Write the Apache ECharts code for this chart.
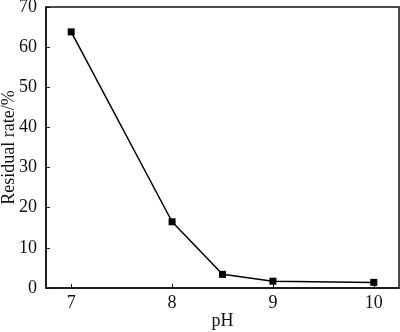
<!DOCTYPE html>
<html><head><meta charset="utf-8">
<script src="https://cdn.jsdelivr.net/npm/echarts@6/dist/echarts.min.js"></script>
<style>html,body{margin:0;padding:0;background:#fff}#c{width:400px;height:332px}</style>
</head><body><div id="c"></div>
<script>
const pH = [7, 8, 8.5, 9, 10];
const residualRate = [63.8, 16.5, 3.4, 1.7, 1.4];
const xTicks = [7, 8, 9, 10];
const yTicks = [0, 10, 20, 30, 40, 50, 60, 70];

const font = "'Liberation Serif', 'Times New Roman', serif";
const chart = echarts.init(document.getElementById('c'), null, {renderer: 'canvas'});
chart.setOption({
  animation: false,
  grid: {left: 46, right: 1, top: 7, bottom: 44, show: true, borderColor: '#111', borderWidth: 1.5,
    outerBoundsMode: 'none', containLabel: false},
  xAxis: {
    type: 'value', min: 6.75, max: 10.25,
    name: 'pH', nameLocation: 'middle', nameGap: 24, nameMoveOverlap: false,
    nameTextStyle: {fontFamily: font, fontSize: 18, color: '#111'},
    axisLine: {show: true, onZero: false, lineStyle: {color: '#111', width: 1.5}},
    axisTick: {show: true, inside: true, length: 4, lineStyle: {color: '#111'},
      customValues: xTicks},
    axisLabel: {fontFamily: font, fontSize: 18, color: '#111', margin: 6,
      customValues: xTicks},
    splitLine: {show: false}
  },
  yAxis: {
    type: 'value', min: 0, max: 70, interval: 10,
    name: 'Residual rate/%', nameLocation: 'middle', nameGap: 28, nameMoveOverlap: false,
    nameTextStyle: {fontFamily: font, fontSize: 18, color: '#111'},
    axisLine: {show: true, lineStyle: {color: '#111', width: 1.5}},
    axisTick: {show: true, inside: true, length: 4, lineStyle: {color: '#111'}},
    axisLabel: {fontFamily: font, fontSize: 18, color: '#111', margin: 9},
    splitLine: {show: false}
  },
  series: [{
    type: 'line',
    data: pH.map((x, i) => [x, residualRate[i]]),
    symbol: 'rect', symbolSize: 7,
    lineStyle: {color: '#000', width: 1.5},
    itemStyle: {color: '#000'}
  }]
});
</script></body></html>
